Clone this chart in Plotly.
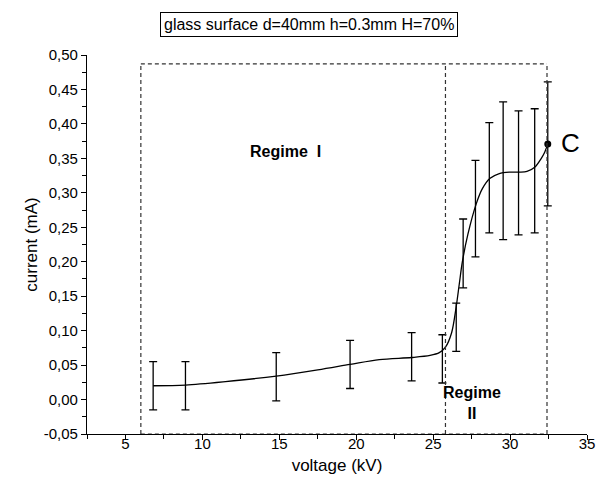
import plotly.graph_objects as go

# measured points with error bars
volt = [6.8, 8.9, 14.8, 19.6, 23.6, 25.6, 26.5, 26.95, 27.75, 28.65, 29.55, 30.55, 31.6, 32.45]
curr = [0.020, 0.020, 0.033, 0.051, 0.062, 0.059, 0.105, 0.212, 0.277, 0.322, 0.332, 0.329, 0.332, 0.371]
curr_err = [0.035, 0.035, 0.035, 0.035, 0.035, 0.035, 0.035, 0.050, 0.070, 0.080, 0.100, 0.090, 0.090, 0.090]

# smooth fitted curve
fit_v = [6.8, 8.9, 11.5, 14.8, 17.5, 19.6, 21.5, 23.6, 24.8, 25.4, 25.8, 26.2, 26.5, 26.7, 26.9,
         27.26, 27.8, 28.2, 28.7, 29.3, 30.0, 30.6, 31.1, 31.6, 32.0, 32.25, 32.45]
fit_c = [0.020, 0.021, 0.026, 0.034, 0.043, 0.051, 0.058, 0.061, 0.064, 0.068, 0.076, 0.097, 0.135,
         0.168, 0.200, 0.240, 0.284, 0.306, 0.321, 0.328, 0.330, 0.330, 0.331, 0.337, 0.349, 0.359, 0.371]

# point C
c_v = [32.45]
c_c = [0.371]

# regime boundaries
regime_x = [6.0, 25.8, 32.4]
regime_top = 0.487

x_ticks = [5, 10, 15, 20, 25, 30, 35]
x_tick_labels = ["5", "10", "15", "20", "25", "30", "35"]
y_ticks = [-0.05, 0.0, 0.05, 0.10, 0.15, 0.20, 0.25, 0.30, 0.35, 0.40, 0.45, 0.50]
y_tick_labels = ["-0,05", "0,00", "0,05", "0,10", "0,15", "0,20", "0,25", "0,30", "0,35",
                 "0,40", "0,45", "0,50"]

FONT = "Liberation Sans, Arial, sans-serif"

fig = go.Figure()

fig.add_trace(go.Scatter(
    x=fit_v, y=fit_c, mode="lines",
    line=dict(color="black", width=1.3, shape="spline", smoothing=0.9),
    hoverinfo="skip", showlegend=False))

fig.add_trace(go.Scatter(
    x=volt, y=curr, mode="markers",
    marker=dict(size=1, color="rgba(0,0,0,0)"),
    error_y=dict(type="data", array=curr_err, color="black", thickness=1.3, width=4),
    showlegend=False))

fig.add_trace(go.Scatter(
    x=c_v, y=c_c, mode="markers",
    marker=dict(size=7, color="black"), showlegend=False))

dash = dict(color="#333333", width=1.2, dash="4px,3px")
y_bottom = y_ticks[0]
# top edge
fig.add_shape(type="line", x0=regime_x[0], x1=regime_x[2], y0=regime_top, y1=regime_top, line=dash)
# bottom edge
fig.add_shape(type="line", x0=regime_x[0], x1=regime_x[2], y0=y_bottom, y1=y_bottom, line=dash)
for xv in regime_x:
    fig.add_shape(type="line", x0=xv, x1=xv, y0=y_bottom, y1=regime_top, line=dash)

fig.add_annotation(x=15.4, y=0.360, text="Regime\u00a0\u00a0I", showarrow=False,
                   font=dict(family=FONT, size=16, color="black", weight="bold"))
fig.add_annotation(x=27.55, y=-0.005, text="Regime<br>II", showarrow=False,
                   font=dict(family=FONT, size=16, color="black", weight="bold"))
fig.add_annotation(x=33.9, y=0.372, text="C", showarrow=False,
                   font=dict(family=FONT, size=26, color="black"))

fig.add_annotation(xref="paper", yref="paper", x=0.444, y=1.113,
                   text="glass surface d=40mm h=0.3mm H=70%", showarrow=False,
                   font=dict(family=FONT, size=16, color="black"),
                   bordercolor="black", borderwidth=1, borderpad=3, bgcolor="white")

fig.update_xaxes(range=[2.5, 35], showline=True, linecolor="black", linewidth=1.3,
                 showgrid=False, zeroline=False, ticks="outside", ticklen=5, tickcolor="black",
                 tickvals=x_ticks, ticktext=x_tick_labels, automargin=False,
                 ticklabelstandoff=-9,
                 minor=dict(dtick=2.5, tick0=0, ticks="outside", ticklen=4, tickcolor="black"),
                 tickfont=dict(family=FONT, size=15, color="black"),
                 title=dict(text="voltage (kV)", font=dict(family=FONT, size=17, color="black"),
                            standoff=7))
fig.update_yaxes(range=[-0.05, 0.5], showline=True, linecolor="black", linewidth=1.3,
                 showgrid=False, zeroline=False, ticks="outside", ticklen=5, tickcolor="black",
                 tickvals=y_ticks, ticktext=y_tick_labels, automargin=False,
                 minor=dict(dtick=0.025, tick0=0, ticks="outside", ticklen=4, tickcolor="black"),
                 tickfont=dict(family=FONT, size=15, color="black"),
                 title=dict(text="current (mA)", font=dict(family=FONT, size=17, color="black"),
                            standoff=1))

# page body has an 8px margin, so the figure is 8px smaller and margins shifted
fig.update_layout(width=597, height=477, plot_bgcolor="white", paper_bgcolor="white",
                  margin=dict(l=79, r=18, t=47, b=51), showlegend=False)

fig.write_html("out.html")
